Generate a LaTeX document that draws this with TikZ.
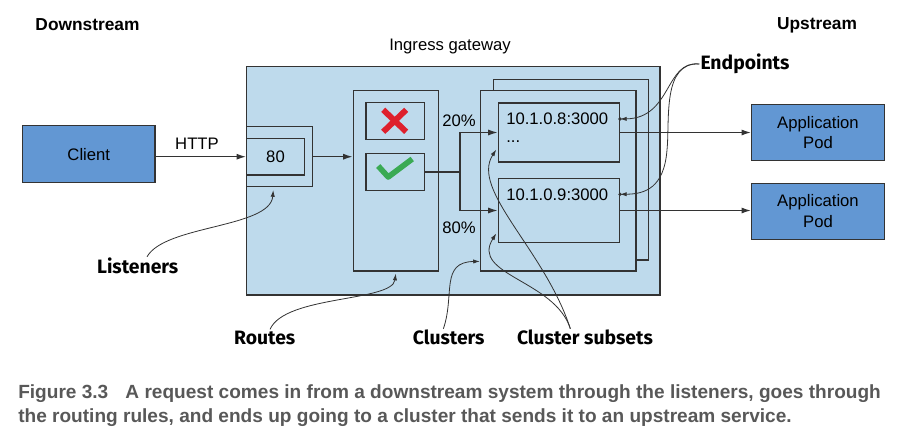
\documentclass[tikz,border=0pt]{standalone}
\usepackage{fontspec}
\setmainfont{Liberation Sans}
\newfontfamily\headfont{Liberation Sans}
\newfontfamily\calloutfont{Fira Sans}
\newfontfamily\captionfont{Liberation Sans}
\usetikzlibrary{arrows.meta}

\definecolor{gwblue}{RGB}{190,218,236}
\definecolor{podblue}{RGB}{98,151,211}
\definecolor{edgegray}{RGB}{51,51,51}
\definecolor{xred}{RGB}{222,32,44}
\definecolor{okgreen}{RGB}{58,170,84}
\definecolor{capgray}{RGB}{88,88,88}

\tikzset{
  box/.style={draw=edgegray, line width=1.1pt, fill=gwblue, inner sep=0pt, font=\fontsize{12.5}{15.5}\selectfont},
  podbox/.style={box, fill=podblue, align=center},
  labeltext/.style={inner sep=0.75pt, font=\fontsize{12.5}{15.5}\selectfont},
  sidehead/.style={inner sep=0.75pt, font=\headfont\bfseries\fontsize{13}{15}\selectfont},
  calloutlabel/.style={inner sep=0.75pt, font=\calloutfont\bfseries\fontsize{14.5}{17}\selectfont},
  captiontext/.style={inner sep=0pt, align=left, text=capgray, font=\captionfont\bfseries\fontsize{14.3}{18}\selectfont},
  flow/.style={draw=edgegray, line width=0.9pt, -{Latex[length=7pt,width=4.5pt]}},
  callout/.style={draw=edgegray, line width=0.6pt, -{Latex[length=5pt,width=3.2pt]}},
}

\begin{document}
\begin{tikzpicture}[x=0.75pt,y=0.75pt,yscale=-1,xscale=1]
\path[use as bounding box] (0,0) rectangle (904,440);

% Gateway and its parts
\node[box, minimum width=310pt, minimum height=171.2pt] (gateway) at (453.3,180.8) {};
\node[box, minimum width=49.5pt, minimum height=45pt] (listener) at (279.7,156.7) {};
\node[box, minimum width=43.2pt, minimum height=27.5pt] (port) at (275.5,156.7) {80};
\node[box, minimum width=63.75pt, minimum height=135.2pt] (routes) at (395.8,180.8) {};
\node[box, minimum width=43.7pt, minimum height=27.75pt] (deny) at (395.2,120.8) {};
\node[box, minimum width=43.7pt, minimum height=28pt] (allow) at (395.2,172) {};
\node[box, minimum width=116.25pt, minimum height=135.5pt] (clusterback) at (570.8,169.7) {};
\node[box, minimum width=116.5pt, minimum height=135.2pt] (cluster) at (558.3,180.8) {};
\node[box, minimum width=90.75pt, minimum height=44.5pt] (subsetA) at (558.8,132.5) {};
\node[box, minimum width=90.75pt, minimum height=48.3pt] (subsetB) at (558.8,210.5) {};

% Client and pods
\node[podbox, minimum width=99.2pt, minimum height=42.75pt] (client) at (88.8,154.2) {Client};
\node[podbox, minimum width=99.5pt, minimum height=42pt] (podA) at (818,132.5) {Application\\Pod};
\node[podbox, minimum width=99.5pt, minimum height=42pt] (podB) at (818,211.3) {Application\\Pod};

% Deny and allow marks
\draw[xred, line width=4.4pt, shift={(deny.center)}] (-12,-11) -- (11,11) (11,-11) -- (-12,11);
\draw[okgreen, line width=4.2pt, line join=round, shift={(allow.center)}] (-17,-6) -- (-7,5) -- (17,-13);

% Text Node
\node[labeltext, anchor=west] (ipA) at (505,119) {10.1.0.8:3000};
\node[labeltext, anchor=west] (more) at (505,142) {...};
\node[labeltext, anchor=west] (ipB) at (505,194.3) {10.1.0.9:3000};
\node[labeltext] (share20) at (459,120.7) {20\%};
\node[labeltext] (share80) at (459,227.7) {80\%};
\node[labeltext] (http) at (197,143.3) {HTTP};
\node[labeltext] (gwtitle) at (450,46) {Ingress gateway};
\node[sidehead] (down) at (87.5,25) {Downstream};
\node[sidehead] (up) at (817,25) {Upstream};
\node[calloutlabel] (endpoints) at (745,64) {Endpoints};
\node[calloutlabel] (listeners) at (137.7,266) {Listeners};
\node[calloutlabel] (routelabel) at (264.7,337.5) {Routes};
\node[calloutlabel] (clusterlabel) at (448.7,337.5) {Clusters};
\node[calloutlabel] (subsetlabel) at (585,337.5) {Cluster subsets};
\node[captiontext, anchor=base west] (caption) at (18,422) {Figure 3.3\hspace{0.9em}A request comes in from a downstream system through the listeners, goes through\\the routing rules, and ends up going to a cluster that sends it to an upstream service.};

% Straight Lines
\draw[flow] (client.east |- port.west) -- (port.west);
\draw[flow] (listener.east) -- (listener.east -| routes.west);
\coordinate (split) at (460,172);
\draw[draw=edgegray, line width=0.9pt] (allow.east) -- (split);
\draw[flow] (split) |- (subsetA.west);
\draw[flow] (split) |- (subsetB.west);
\draw[flow] (subsetA.east) -- (podA.west);
\draw[flow] (subsetB.east) -- (subsetB.east -| podB.west);

% Endpoint dots
\coordinate (dotA) at (subsetA.east |- ipA);
\coordinate (dotB) at (subsetB.east |- ipB);
\fill[edgegray] (dotA) circle (1.8) (dotB) circle (1.8);

% Curve Lines
\draw[callout] ([xshift=7pt]listeners.north) .. controls (165,225) and (270,228) .. ([xshift=-4.8pt,yshift=2pt]listener.south);
\draw[callout] ([xshift=4pt]routelabel.north) .. controls (285,295) and (392,302) .. ([yshift=1.5pt]routes.south);
\draw[callout] ([xshift=-4pt]clusterlabel.north) .. controls (455,295) and (440,262) .. ([yshift=-7.7pt]cluster.south west);
\draw[callout] ([xshift=-11pt]subsetlabel.north) .. controls (555,280) and (470,275) .. ([xshift=-1pt,yshift=-7.5pt]subsetB.south west);
\draw[callout] ([xshift=-11pt]subsetlabel.north) .. controls (545,250) and (470,190) .. ([xshift=-1pt,yshift=-10pt]subsetA.south west);
\draw[callout] (endpoints.west) .. controls (665,60) and (672,118) .. (dotA);
\draw[callout] (endpoints.west) .. controls (662,62) and (670,120) .. (667,150) .. controls (664,188) and (645,194) .. (dotB);

\end{tikzpicture}
\end{document}
